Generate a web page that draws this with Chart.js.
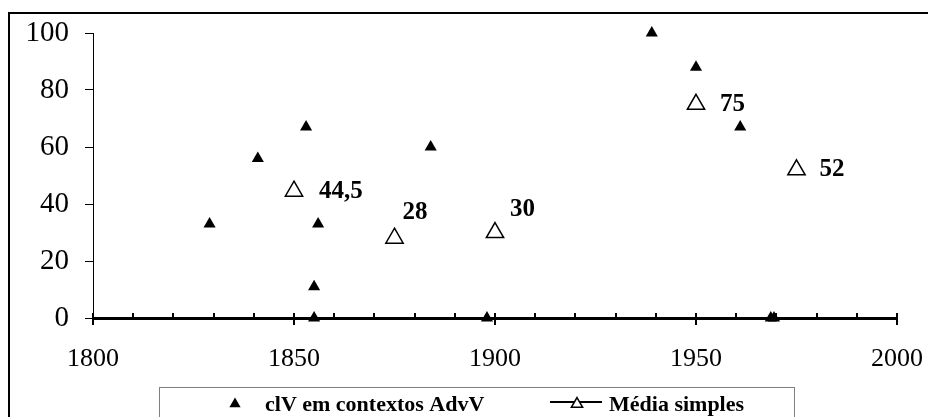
<!DOCTYPE html>
<html><head><meta charset="utf-8">
<script src="https://cdn.jsdelivr.net/npm/chart.js@4/dist/chart.umd.min.js"></script>
<style>html,body{margin:0;padding:0;background:#fff;} #wrap{width:928px;height:417px;position:relative;} canvas{background:#fff;}</style>
</head><body><div id="wrap"><canvas id="c" width="928" height="417"></canvas></div>
<script>
// ---- data ----
const clvYears   = [1829, 1841, 1853, 1855, 1855, 1856, 1884, 1898, 1939, 1950, 1961, 1968.6, 1969.4];
const clvValues  = [33,   56,   67,   11,   0,    33,   60,   0,    100,  88,   67,   0,      0];
const meanYears  = [1850, 1875, 1900, 1950, 1975];
const meanValues = [44.5, 28,   30,   75,   52];
const meanLabels = ['44,5', '28', '30', '75', '52'];
const xTickValues = [1800, 1850, 1900, 1950, 2000];
const xMinorStep = 10;
const yTickValues = [0, 20, 40, 60, 80, 100];
const seriesNames = ['clV em contextos AdvV', 'Média simples'];

const FONT = "'Liberation Serif', 'Times New Roman', serif";

function triPath(ctx, x, y, r) {
  ctx.beginPath();
  for (let i = 0; i < 3; i++) {
    const a = i * 2 * Math.PI / 3;
    const px = x + Math.sin(a) * r, py = y - Math.cos(a) * r;
    if (i === 0) ctx.moveTo(px, py); else ctx.lineTo(px, py);
  }
  ctx.closePath();
}

const framePlugin = {
  id: 'frame',
  beforeDraw(chart) {
    const ctx = chart.ctx;
    ctx.save();
    ctx.strokeStyle = '#000';
    ctx.lineWidth = 2;
    ctx.strokeRect(9, 13, 1000, 1000);
    ctx.restore();
  }
};

const xTickPlugin = {
  id: 'xticks',
  beforeDatasetsDraw(chart) {
    const ctx = chart.ctx, xs = chart.scales.x, ys = chart.scales.y;
    const y0 = ys.getPixelForValue(0);
    ctx.save();
    ctx.strokeStyle = '#000';
    ctx.lineWidth = 2;
    for (let v = xs.min; v <= xs.max + 1e-9; v += xMinorStep) {
      const px = Math.round(xs.getPixelForValue(v));
      const major = xTickValues.includes(v);
      ctx.beginPath();
      ctx.moveTo(px, y0 - 5);
      ctx.lineTo(px, major ? y0 + 7 : y0);
      ctx.stroke();
    }
    ctx.restore();
  }
};

const labelPlugin = {
  id: 'meanLabels',
  afterDatasetsDraw(chart, args, opts) {
    const ctx = chart.ctx;
    const meta = chart.getDatasetMeta(1);
    ctx.save();
    ctx.font = 'bold 25px ' + FONT;
    ctx.fillStyle = '#000';
    ctx.textAlign = 'left';
    ctx.textBaseline = 'middle';
    meta.data.forEach((el, i) => {
      const off = opts.offsets[i] || [20, 0];
      ctx.fillText(meanLabels[i], el.x + off[0], el.y + off[1]);
    });
    ctx.restore();
  }
};

const legendPlugin = {
  id: 'boxLegend',
  afterDraw(chart) {
    const ctx = chart.ctx;
    ctx.save();
    ctx.strokeStyle = '#808080';
    ctx.lineWidth = 1;
    ctx.strokeRect(159.5, 387.5, 635, 60);
    // item 1
    ctx.fillStyle = '#000';
    triPath(ctx, 235, 404, 6.5);
    ctx.fill();
    ctx.font = 'bold 22px ' + FONT;
    ctx.textBaseline = 'alphabetic';
    ctx.textAlign = 'left';
    ctx.fillText(seriesNames[0], 265, 411);
    // item 2
    ctx.strokeStyle = '#000';
    ctx.lineWidth = 2;
    ctx.beginPath(); ctx.moveTo(550, 402); ctx.lineTo(602, 402); ctx.stroke();
    ctx.fillStyle = '#fff';
    ctx.lineWidth = 1.5;
    triPath(ctx, 577, 404, 6.5);
    ctx.fill(); ctx.stroke();
    ctx.fillStyle = '#000';
    ctx.fillText(seriesNames[1], 609, 411);
    ctx.restore();
  }
};

new Chart(document.getElementById('c'), {
  type: 'scatter',
  data: {
    datasets: [
      {
        label: seriesNames[0],
        data: clvYears.map((x, i) => ({ x, y: clvValues[i] })),
        pointStyle: 'triangle',
        pointRadius: 7,
        pointBackgroundColor: '#000',
        pointBorderColor: '#000',
        pointBorderWidth: 0,
        clip: false
      },
      {
        label: seriesNames[1],
        data: meanYears.map((x, i) => ({ x, y: meanValues[i] })),
        pointStyle: 'triangle',
        pointRadius: 10,
        pointBackgroundColor: '#fff',
        pointBorderColor: '#000',
        pointBorderWidth: 1.5,
        clip: false
      }
    ]
  },
  options: {
    responsive: false,
    animation: false,
    devicePixelRatio: 1,
    events: [],
    layout: { padding: { left: 0, top: 33, right: 31, bottom: 0 } },
    plugins: {
      legend: { display: false },
      tooltip: { enabled: false },
      meanLabels: { offsets: [[25, 0], [8, -26], [15, -23], [24, 0], [23, 0]] }
    },
    scales: {
      x: {
        type: 'linear',
        min: 1800, max: 2000,
        afterBuildTicks: s => { s.ticks = xTickValues.map(v => ({ value: v })); },
        afterFit: s => { s.height = 99; s.paddingLeft = 0; s.paddingRight = 0; },
        grid: { display: true, drawOnChartArea: false, drawTicks: false },
        border: { display: true, color: '#000', width: 3 },
        ticks: { color: '#000', font: { family: FONT, size: 26 }, padding: 26, maxRotation: 0, autoSkip: false,
                 callback: v => String(v) }
      },
      y: {
        type: 'linear',
        min: 0, max: 100,
        afterBuildTicks: s => { s.ticks = yTickValues.map(v => ({ value: v })); },
        afterFit: s => { s.width = 93; s.paddingTop = 0; s.paddingBottom = 0; },
        grid: { display: true, drawOnChartArea: false, drawTicks: true, tickLength: 8, color: '#000', tickWidth: 1 },
        border: { display: true, color: '#000', width: 1 },
        ticks: { color: '#000', font: { family: FONT, size: 29 }, padding: 16, callback: v => String(v) }
      }
    }
  },
  plugins: [framePlugin, xTickPlugin, labelPlugin, legendPlugin]
});
</script>
</body></html>
